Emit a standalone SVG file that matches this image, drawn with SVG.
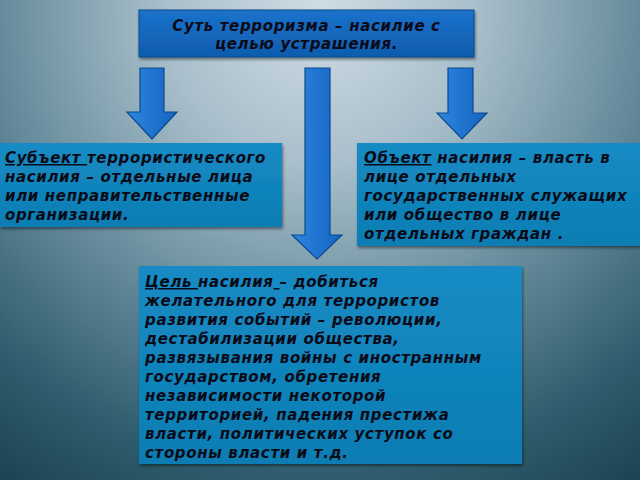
<svg xmlns="http://www.w3.org/2000/svg" width="640" height="480" viewBox="0 0 640 480">
<defs>
<radialGradient id="bg" cx="320" cy="10" r="620" gradientUnits="userSpaceOnUse">
<stop offset="0" stop-color="#cfdce4"/>
<stop offset="0.25" stop-color="#a9bfcb"/>
<stop offset="0.5" stop-color="#6a8e9e"/>
<stop offset="0.75" stop-color="#2f5d6d"/>
<stop offset="1" stop-color="#123545"/>
</radialGradient>
<linearGradient id="title" x1="0" y1="0" x2="0" y2="1">
<stop offset="0" stop-color="#1b72cc"/>
<stop offset="1" stop-color="#0f5cae"/>
</linearGradient>
<linearGradient id="box" x1="0" y1="0" x2="0" y2="1">
<stop offset="0" stop-color="#168bc4"/>
<stop offset="1" stop-color="#0c7db3"/>
</linearGradient>
<linearGradient id="arr" x1="0" y1="0" x2="1" y2="0">
<stop offset="0" stop-color="#2c86e0"/>
<stop offset="1" stop-color="#1563c0"/>
</linearGradient>
<filter id="sh" x="-5%" y="-5%" width="110%" height="115%">
<feDropShadow dx="1" dy="2" stdDeviation="1.5" flood-color="#000" flood-opacity="0.45"/>
</filter>
</defs>
<style>
.t{font-family:"DejaVu Sans",sans-serif;font-weight:bold;font-style:italic;font-size:15px;letter-spacing:0.65px;fill:#0b0b18}
.u{text-decoration:underline}
.a{fill:url(#arr);stroke:#0d4a8c;stroke-width:1.2}
</style>
<rect width="640" height="480" fill="url(#bg)"/>
<g id="connectors">
<path class="a" d="M140,68 H164 V112 H177 L152,139 L127,112 H140 Z"/>
<path class="a" d="M305,68 H330 V235 H342 L317,259 L292,235 H305 Z"/>
<path class="a" d="M448,68 H473 V113 H487 L462,139 L437,113 H448 Z"/>
</g>
<g id="title-node">
<rect x="139" y="10" width="335" height="47" fill="url(#title)" stroke="#0b4a8a" stroke-width="1" filter="url(#sh)"/>
<text class="t" x="306.5" y="31" text-anchor="middle">Суть терроризма – насилие с</text>
<text class="t" x="306.5" y="49" text-anchor="middle">целью устрашения.</text>
</g>
<g id="subject-node">
<rect x="0" y="143" width="282" height="84" fill="url(#box)" filter="url(#sh)"/>
<text class="t" x="5" y="163"><tspan class="u">Субъект </tspan>террористического</text>
<text class="t" x="5" y="182">насилия – отдельные лица</text>
<text class="t" x="5" y="201">или неправительственные</text>
<text class="t" x="5" y="220">организации.</text>
</g>
<g id="object-node">
<rect x="357" y="143" width="283" height="103" fill="url(#box)" filter="url(#sh)"/>
<text class="t" x="364" y="163"><tspan class="u">Объект</tspan> насилия – власть в</text>
<text class="t" x="364" y="182">лице отдельных</text>
<text class="t" x="364" y="201">государственных служащих</text>
<text class="t" x="364" y="220">или общество в лице</text>
<text class="t" x="364" y="239">отдельных граждан .</text>
</g>
<g id="goal-node">
<rect x="139" y="266" width="383" height="198" fill="url(#box)" filter="url(#sh)"/>
<text class="t" x="145" y="287"><tspan class="u">Цель </tspan>насилия<tspan class="u"> </tspan>– добиться</text>
<text class="t" x="145" y="306">желательного для террористов</text>
<text class="t" x="145" y="325">развития событий – революции,</text>
<text class="t" x="145" y="344">дестабилизации общества,</text>
<text class="t" x="145" y="363">развязывания войны с иностранным</text>
<text class="t" x="145" y="382">государством, обретения</text>
<text class="t" x="145" y="401">независимости некоторой</text>
<text class="t" x="145" y="420">территорией, падения престижа</text>
<text class="t" x="145" y="439">власти, политических уступок со</text>
<text class="t" x="145" y="458">стороны власти и т.д.</text>
</g>
</svg>
